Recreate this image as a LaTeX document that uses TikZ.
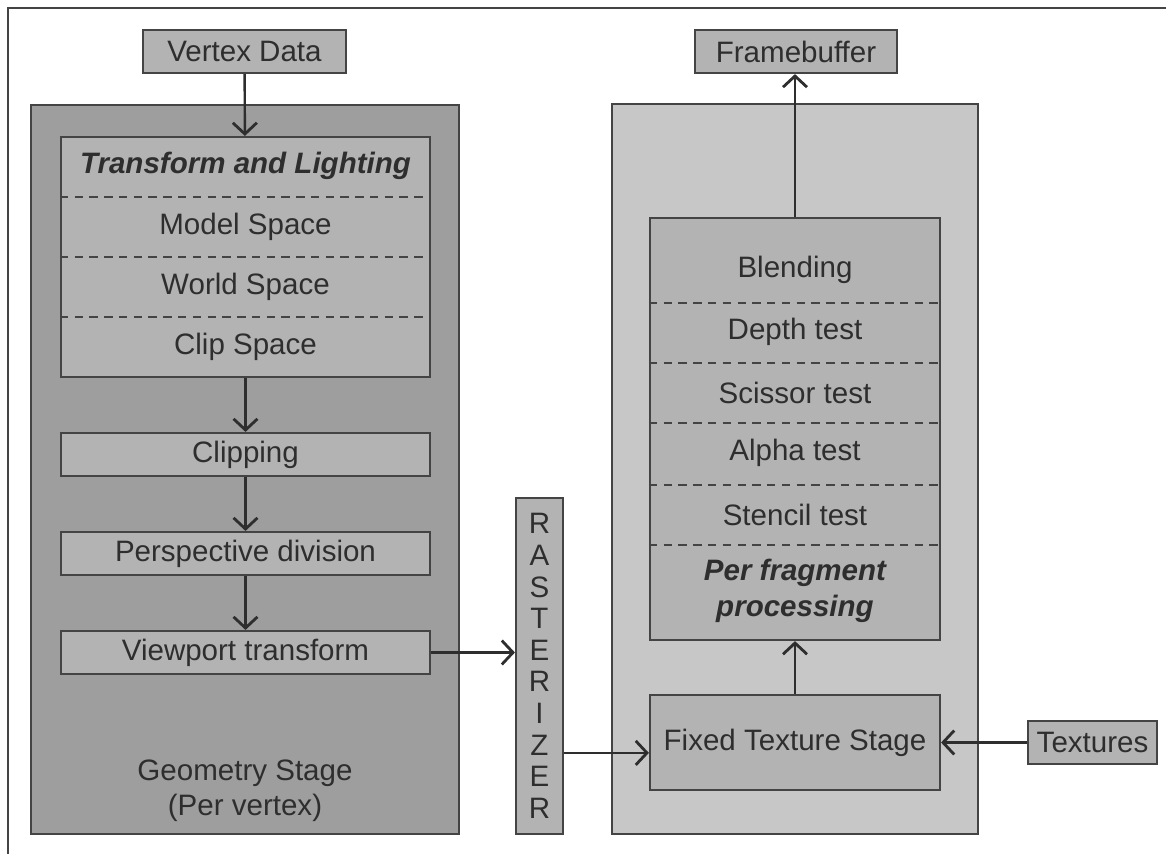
\documentclass[tikz,border=0pt]{standalone}
\usepackage{fontspec}
\setmainfont{Liberation Sans}
\usetikzlibrary{arrows.meta}
\definecolor{inkgray}{HTML}{2E2E2E}
\definecolor{edgegray}{HTML}{444444}
\definecolor{geomgray}{HTML}{9E9E9E}
\definecolor{panelgray}{HTML}{C6C7C6}
\definecolor{boxgray}{HTML}{B2B3B2}
\begin{document}
\begin{tikzpicture}[x=0.025cm,y=-0.025cm,line width=1.5pt,
  font=\fontsize{21}{24}\selectfont,text=inkgray,
  box/.style={draw=edgegray,fill=boxgray,minimum height=1.075cm,inner sep=0pt},
  arr/.style={draw=inkgray,line width=1.7pt,-{Straight Barb[length=2.8mm,width=6mm,line width=2pt]}},
  sep/.style={draw=edgegray,line width=1.3pt,dash pattern=on 6pt off 4.5pt}]
  \useasboundingbox (0,0) rectangle (1166,854);
  \draw[edgegray] (8,854) -- (8,8) -- (1166,8);

  \node[draw=edgegray,fill=geomgray,minimum width=10.7cm,minimum height=18.225cm] (geom) at (245,469.5) {};
  \node[draw=edgegray,fill=panelgray,minimum width=9.15cm,minimum height=18.25cm] (panel) at (795,469) {};
  \node[align=center,font=\fontsize{21}{24.8}\selectfont] (geomlab) at (245,790.5) {Geometry Stage\\(Per vertex)};

  \node[box,minimum width=5.075cm] (vdata) at (244.5,51.5) {Vertex Data};
  \node[box,minimum width=9.225cm,minimum height=6cm] (tl) at (245.5,257) {};
  \node[font=\fontsize{21}{24}\bfseries\itshape] (tltitle) at (245.5,166) {Transform and Lighting};
  \foreach \y/\name in {227/Model Space,287/World Space,347/Clip Space}
    \node (tl\y) at (245.5,\y) {\name};
  \foreach \y in {197,257,317}
    \draw[sep] (tl.west |- 0,\y) -- (tl.east |- 0,\y);
  \node[box,minimum width=9.225cm] (clip) at (245.5,454.5) {Clipping};
  \node[box,minimum width=9.225cm] (persp) at (245.5,553.5) {Perspective division};
  \node[box,minimum width=9.225cm] (vport) at (245.5,652.5) {Viewport transform};

  \node[box,minimum width=1.175cm,minimum height=8.4cm,align=center,
    font=\fontsize{21}{22.5}\selectfont] (rast) at (539.5,666) {R\\A\\S\\T\\E\\R\\I\\Z\\E\\R};

  \node[box,minimum width=5.05cm] (fbuf) at (796,51.5) {Framebuffer};
  \node[box,minimum width=7.25cm,minimum height=10.55cm] (frag) at (795,429) {};
  \foreach \y/\name in {270/Blending,332/Depth test,393/Scissor test,453/Alpha test,515/Stencil test}
    \node (frag\y) at (795,\y) {\name};
  \foreach \y in {303,363,423,485,545}
    \draw[sep] (frag.west |- 0,\y) -- (frag.east |- 0,\y);
  \node[align=center,font=\fontsize{21}{25.6}\bfseries\itshape] (fragtitle) at (795,591) {Per fragment\\processing};
  \node[box,minimum width=7.25cm,minimum height=2.375cm] (fixed) at (795,742.5) {Fixed Texture Stage};
  \node[box,minimum width=3.225cm] (tex) at (1092.5,742.5) {Textures};

  \draw[arr] (vdata) -- (tl);
  \draw[arr] (tl) -- (clip);
  \draw[arr] (clip) -- (persp);
  \draw[arr] (persp) -- (vport);
  \draw[arr] (vport.east) -- (vport.east -| rast.west);
  \coordinate (rin) at ([yshift=-0.26cm]fixed.west);
  \draw[arr] (rast.east |- rin) -- (rin);
  \draw[arr] (tex) -- (fixed);
  \draw[arr] (fixed) -- (frag);
  \draw[arr] (frag.north) -- (frag.north |- fbuf.south);
\end{tikzpicture}
\end{document}
